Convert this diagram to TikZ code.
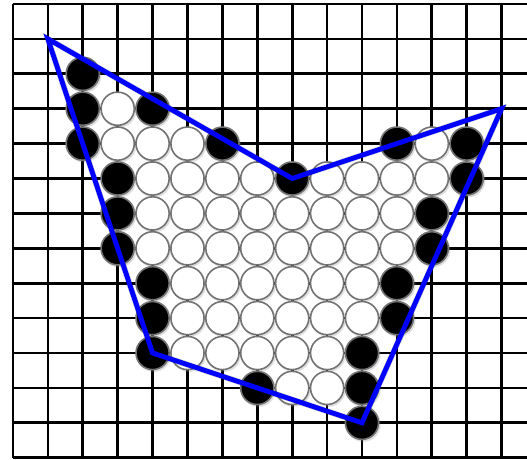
\documentclass[tikz,border=0pt]{standalone}
\usepackage{xcolor}
\usepackage{tikz}
\usetikzlibrary{shadows}
\definecolor{hullblue}{RGB}{0,0,255}
\definecolor{stoneedge}{RGB}{115,115,115}
\tikzset{
  gridline/.style={draw=black, line width=2.2pt},
  stone/.style={circle, draw=stoneedge, line width=1.3pt, minimum size=0.95cm,
    inner sep=0pt, drop shadow={shadow xshift=1pt, shadow yshift=-1.2pt,
    shadow scale=1.05, opacity=0.25}},
  whitestone/.style={stone, fill=white},
  blackstone/.style={stone, fill=black},
  hullline/.style={draw=hullblue, line width=4pt, line join=miter},
  hullshadow/.style={draw=black, opacity=0.15, line width=5pt, line join=miter,
    shift={(1.3pt,-1.5pt)}}
}

\begin{document}
\begin{tikzpicture}
\useasboundingbox (-0.372,0.115) rectangle (14.728,-13.037);
\fill[white] (-0.372,0.115) rectangle (14.728,-13.037);

\foreach \i in {0,...,14}
  \draw[gridline] (\i,0) -- (\i,-13);
\foreach \j in {0,...,13}
  \draw[gridline] (0,-\j) -- (14.728,-\j);

\foreach \i/\j in {3/3, 3/4,4/4,5/4,12/4,
  4/5,5/5,6/5,7/5,9/5,10/5,11/5,12/5,
  4/6,5/6,6/6,7/6,8/6,9/6,10/6,11/6,
  4/7,5/7,6/7,7/7,8/7,9/7,10/7,11/7,
  5/8,6/8,7/8,8/8,9/8,10/8,
  5/9,6/9,7/9,8/9,9/9,10/9,
  5/10,6/10,7/10,8/10,9/10,
  8/11,9/11}
  \node[whitestone] (w-\i-\j) at (\i,-\j) {};

\foreach \i/\j in {2/2, 2/3,4/3, 2/4,6/4,11/4,13/4, 3/5,8/5,13/5,
  3/6,12/6, 3/7,12/7, 4/8,11/8, 4/9,11/9, 4/10,10/10, 7/11,10/11, 10/12}
  \node[blackstone] (b-\i-\j) at (\i,-\j) {};

\coordinate (hulltl) at (1,-1);
\coordinate (hullnotch) at (8,-5);
\coordinate (hulltr) at (14,-3);
\coordinate (hullbr) at (10,-12);
\coordinate (hullbl) at (4,-10);

\draw[hullshadow] (hulltl) -- (hullnotch) -- (hulltr) -- (hullbr) -- (hullbl) -- cycle;
\draw[hullline] (hulltl) -- (hullnotch) -- (hulltr) -- (hullbr) -- (hullbl) -- cycle;
\end{tikzpicture}
\end{document}
